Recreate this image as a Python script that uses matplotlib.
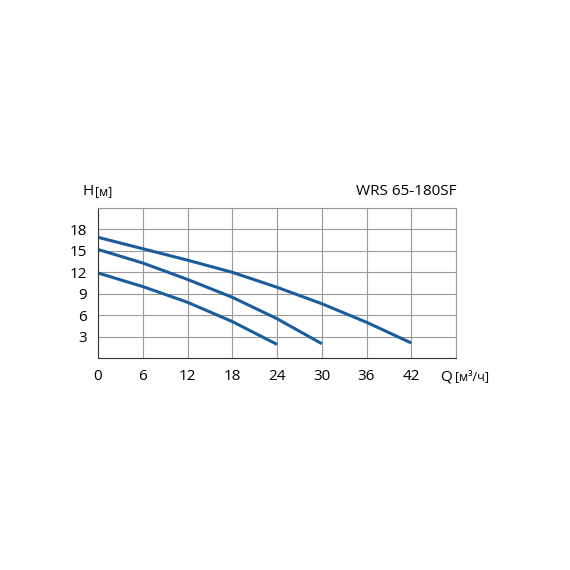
import matplotlib
matplotlib.use("Agg")
import matplotlib.pyplot as plt

q_top = [0, 6, 12, 18, 24, 30, 36, 42]
h_top = [16.9, 15.3, 13.7, 12.0, 9.9, 7.6, 5.0, 2.1]
q_mid = [0, 6, 12, 18, 24, 30]
h_mid = [15.2, 13.3, 11.0, 8.5, 5.5, 2.0]
q_low = [0, 6, 12, 18, 24]
h_low = [11.9, 10.0, 7.8, 5.1, 1.9]
xticks = [0, 6, 12, 18, 24, 30, 36, 42]
yticks = [3, 6, 9, 12, 15, 18]

plt.rcParams['font.family'] = ['Open Sans', 'DejaVu Sans']
fig = plt.figure(figsize=(5.7, 5.7), dpi=100)
ax = fig.add_axes([0.172, 0.372, 0.628, 0.263])
col = '#1b5c9c'
for q, h in [(q_top, h_top), (q_mid, h_mid), (q_low, h_low)]:
    ax.plot(q, h, color=col, lw=2.2, solid_capstyle='butt', solid_joinstyle='round')
ax.set_xlim(0, 48)
ax.set_ylim(0, 21)
ax.set_xticks(xticks + [48])
ax.set_yticks(yticks + [21])
ax.grid(True, color='#999999', lw=0.8)
ax.set_xticklabels([str(v) for v in xticks] + [''])
ax.set_yticklabels([str(v) for v in yticks] + [''])
ax.tick_params(length=0, labelsize=11, pad=8)
for s in ax.spines.values():
    s.set_color('#999999'); s.set_linewidth(0.8)
ax.spines['bottom'].set_color('#333333')
ax.spines['left'].set_color('#333333')
fig.text(0.145, 0.658, 'H', fontsize=11)
fig.text(0.166, 0.658, '[м]', fontsize=9)
fig.text(0.8, 0.658, 'WRS 65-180SF', fontsize=11, ha='right')
fig.text(0.772, 0.333, 'Q', fontsize=11)
fig.text(0.798, 0.333, '[м³/ч]', fontsize=9)
fig.savefig('out.png', dpi=100)
